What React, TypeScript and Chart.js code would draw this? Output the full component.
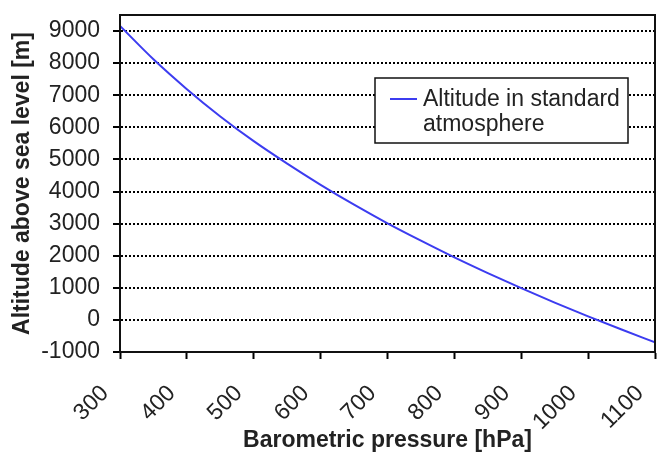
import { useEffect, useRef } from "react";
import { Chart, registerables } from "chart.js";

Chart.register(...registerables);

// ---- data ----
const pressures = [300, 350, 400, 450, 500, 550, 600, 650, 700, 750, 800, 850, 900, 950, 1000, 1050, 1100];
const altitudes = [9160, 8120, 7190, 6340, 5570, 4870, 4210, 3590, 3010, 2470, 1950, 1460, 990, 540, 110, -300, -700];
const xTickValues = [300, 400, 500, 600, 700, 800, 900, 1000, 1100];
const yTickValues = [-1000, 0, 1000, 2000, 3000, 4000, 5000, 6000, 7000, 8000, 9000];
const seriesLabel = "Altitude in standard atmosphere";
const legendLines = ["Altitude in standard", "atmosphere"];
const xTitle = "Barometric pressure [hPa]";
const yTitle = "Altitude above sea level [m]";
const xMin = 300;
const xMax = 1100;
const yMin = -1000;
const yMax = 9500;

const FONT = "'Liberation Sans', Arial, sans-serif";
const TEXT = "#222";
const LINE = "#3c3cf0";

const framePlugin = {
  id: "frame",
  afterDatasetsDraw(chart: any) {
    const { ctx, chartArea: a } = chart;
    ctx.save();
    ctx.strokeStyle = "#111";
    ctx.lineWidth = 2;
    ctx.setLineDash([]);
    ctx.strokeRect(a.left, a.top, a.right - a.left, a.bottom - a.top);
    ctx.restore();
  },
};

const legendPlugin = {
  id: "boxLegend",
  afterDraw(chart: any) {
    const { ctx, chartArea: a } = chart;
    const ds = chart.data.datasets[0];
    const x = a.left + 255;
    const y = a.top + 63;
    const w = 253;
    const h = 65;
    ctx.save();
    ctx.fillStyle = "#fff";
    ctx.fillRect(x, y, w, h);
    ctx.strokeStyle = "#111";
    ctx.lineWidth = 1.5;
    ctx.setLineDash([]);
    ctx.strokeRect(x, y, w, h);
    ctx.strokeStyle = ds.borderColor;
    ctx.lineWidth = 2;
    ctx.beginPath();
    ctx.moveTo(x + 15, y + 21);
    ctx.lineTo(x + 42, y + 21);
    ctx.stroke();
    ctx.fillStyle = TEXT;
    ctx.font = `23px ${FONT}`;
    ctx.textBaseline = "alphabetic";
    ctx.textAlign = "left";
    legendLines.forEach((t, i) => {
      ctx.fillText(t, x + 48, y + 28 + i * 25);
    });
    ctx.restore();
  },
};

export default function App() {
  const ref = useRef<HTMLCanvasElement | null>(null);

  useEffect(() => {
    if (!ref.current) return;
    const chart = new Chart(ref.current, {
      type: "line",
      data: {
        datasets: [
          {
            label: seriesLabel,
            data: pressures.map((p, i) => ({ x: p, y: altitudes[i] })),
            borderColor: LINE,
            borderWidth: 2,
            pointRadius: 0,
            fill: false,
            cubicInterpolationMode: "monotone",
          },
        ],
      },
      options: {
        responsive: false,
        devicePixelRatio: 1,
        animation: false,
        layout: { padding: { top: 15, right: 17, left: 0, bottom: 0 } },
        plugins: {
          legend: { display: false },
          tooltip: { enabled: false },
        },
        scales: {
          x: {
            type: "linear",
            min: xMin,
            max: xMax,
            afterBuildTicks(s: any) {
              s.ticks = xTickValues.map((v) => ({ value: v }));
            },
            ticks: {
              autoSkip: false,
              minRotation: 45,
              maxRotation: 45,
              padding: 21,
              labelOffset: -15,
              color: TEXT,
              font: { family: FONT, size: 23 },
              callback: (v: any) => String(v),
            },
            grid: {
              drawOnChartArea: false,
              drawTicks: true,
              tickLength: 7,
              tickColor: "#000",
              tickWidth: 2,
            },
            border: { display: true, color: "#000", width: 2 },
            title: {
              display: true,
              text: xTitle,
              color: TEXT,
              font: { family: FONT, size: 23, weight: "bold" },
              padding: 8,
            },
            afterFit(s: any) {
              s.height = 110;
              s.paddingLeft = 0;
              s.paddingRight = 0;
            },
          },
          y: {
            type: "linear",
            min: yMin,
            max: yMax,
            afterBuildTicks(s: any) {
              s.ticks = yTickValues.map((v) => ({ value: v }));
            },
            ticks: {
              autoSkip: false,
              padding: 13,
              color: TEXT,
              font: { family: FONT, size: 23 },
              callback: (v: any) => String(v),
            },
            grid: {
              color: "#000",
              lineWidth: 2,
              tickBorderDash: [],
              tickColor: "#000",
              tickWidth: 2,
              tickLength: 7,
            },
            border: { display: true, color: "#000", width: 2, dash: [2, 2] },
            title: {
              display: true,
              text: yTitle,
              color: TEXT,
              font: { family: FONT, size: 23, weight: "bold" },
              padding: 9,
            },
            afterFit(s: any) {
              s.width = 120;
              s.paddingTop = 0;
              s.paddingBottom = 0;
            },
          },
        },
      } as any,
      plugins: [framePlugin, legendPlugin],
    });
    return () => chart.destroy();
  }, []);

  return (
    <div style={{ position: "absolute", left: 0, top: 0, width: 672, height: 462, background: "#fff" }}>
      <canvas ref={ref} width={672} height={462} style={{ display: "block" }} />
    </div>
  );
}
